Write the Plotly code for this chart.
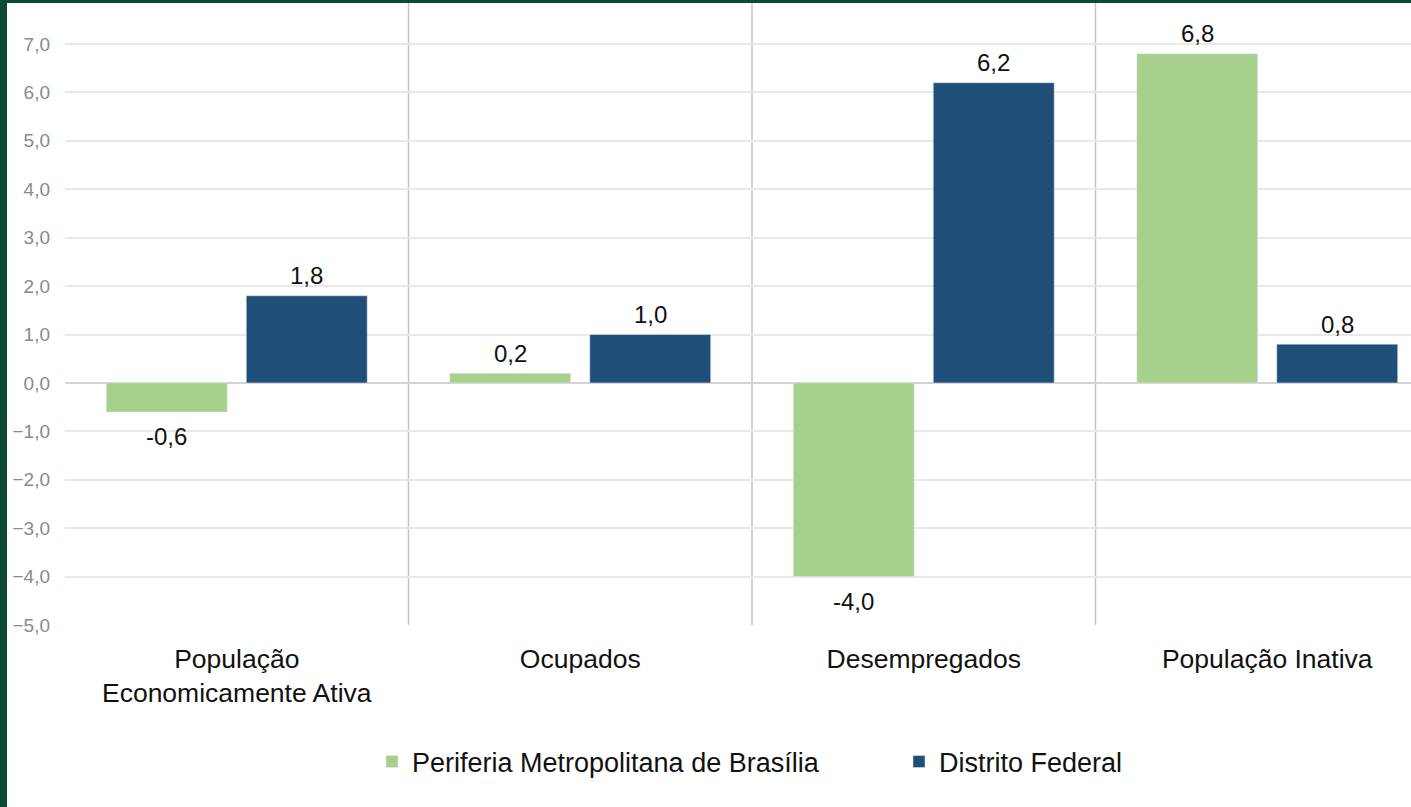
import plotly.graph_objects as go

# Dados
categorias = ["População<br>Economicamente Ativa", "Ocupados", "Desempregados", "População Inativa"]
periferia = [-0.6, 0.2, -4.0, 6.8]
distrito_federal = [1.8, 1.0, 6.2, 0.8]
nomes_series = ["Periferia Metropolitana de Brasília", "Distrito Federal"]
ticks_y = [-5, -4, -3, -2, -1, 0, 1, 2, 3, 4, 5, 6, 7]

VERDE = "#a6d08c"
AZUL = "#1f4e79"
FUNDO = "#0c4832"
FONTE = "Liberation Sans, Arial, sans-serif"

W, H = 1411, 807
ML, MR, MT, MB = 65, 0, 3, 182
pw, ph = W - ML - MR, H - MT - MB
CAT_PX = 343.5
BARGAP = 0.185
desloc = CAT_PX * (1 - BARGAP) / 4  # meio slot de barra, em px


def rotulo(v):
    return f"{v:.1f}".replace(".", ",")


fig = go.Figure()
series = [(nomes_series[0], periferia, VERDE, 482),
          (nomes_series[1], distrito_federal, AZUL, 200)]
for k, (nome, valores, cor, lw) in enumerate(series):
    fig.add_trace(go.Bar(x=categorias, y=valores, name=nome, marker_color=cor,
                         legendwidth=lw))
    sinal = -1 if k == 0 else 1
    for c, v in zip(categorias, valores):
        fig.add_annotation(x=c, y=v, text=rotulo(v), showarrow=False,
                           xshift=sinal * desloc, yshift=20 if v >= 0 else -25,
                           yanchor="middle",
                           font=dict(size=24, color="#111111", family=FONTE))

# linhas verticais separando as categorias
for i in range(len(categorias) - 1):
    fig.add_shape(type="line", xref="x", yref="paper", x0=i + 0.5, x1=i + 0.5,
                  y0=0, y1=1, line=dict(color="#c4c4c4", width=1.5), layer="below")

# moldura verde (esquerda e topo)
fig.add_shape(type="rect", xref="paper", yref="paper",
              x0=-ML / pw, x1=(7 - ML) / pw, y0=-MB / ph, y1=1 + MT / ph,
              fillcolor=FUNDO, line_width=0, layer="above")
fig.add_shape(type="rect", xref="paper", yref="paper",
              x0=-ML / pw, x1=1, y0=1, y1=1 + MT / ph,
              fillcolor=FUNDO, line_width=0, layer="above")

top = 7 + (44 - MT) / ((625 - 44) / 12)
fig.update_layout(
    width=W, height=H,
    margin=dict(l=ML, r=MR, t=MT, b=MB, autoexpand=False),
    paper_bgcolor="white", plot_bgcolor="white",
    separators=",.",
    barmode="group", bargap=BARGAP, bargroupgap=0.136,
    font=dict(family=FONTE, color="#111111"),
    legend=dict(orientation="h", x=(372 - ML) / pw, xanchor="left",
                y=(625 - 762) / ph, yanchor="middle",
                entrywidthmode="pixels",
                font=dict(size=27, color="#111111", family=FONTE)),
)
fig.update_xaxes(range=[-0.5, -0.5 + pw / CAT_PX], showgrid=False, showline=False,
                 ticks="", ticklabelstandoff=15,
                 tickfont=dict(size=26.5, color="#111111", family=FONTE))
fig.update_yaxes(range=[-5, top], tickvals=ticks_y, tickformat=".1f",
                 showgrid=True, gridcolor="#e8e8e8", gridwidth=1.5,
                 zeroline=True, zerolinecolor="#d2d2d2", zerolinewidth=1.5,
                 ticklabelstandoff=14,
                 tickfont=dict(size=19, color="#8a8a8a", family=FONTE))

fig.write_html("out.html", config={"displayModeBar": False},
               post_script="document.body.style.margin='0';")
